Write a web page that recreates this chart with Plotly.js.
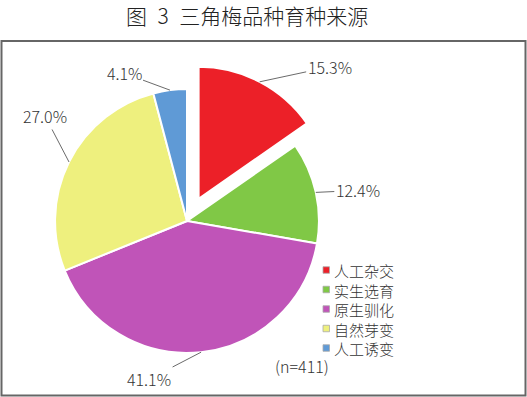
<!DOCTYPE html>
<html>
<head>
<meta charset="utf-8">
<script src="https://cdn.plot.ly/plotly-3.0.1.min.js"></script>
<style>html,body{margin:0;padding:0;background:#fff;}#chart{width:527px;height:397px;}</style>
</head>
<body>
<div id="chart"></div>
<script>
// ---- data ----
const categories = ['人工杂交', '实生选育', '原生驯化', '自然芽变', '人工诱变'];
const shares = [15.3, 12.4, 41.1, 27.0, 4.1];   // percent
const sampleSize = 411;
const titleText = '图\u20023\u2002三角梅品种育种来源';

// ---- styling ----
const colors = ['#EC2028', '#80C846', '#C054B8', '#EEF07E', '#5F9AD6'];
const pulls = [0.19, 0, 0, 0, 0];
const labelOffsets = [[70, -15], [42, -2], [-52, 27], [-24, -46], [-46, -17]]; // px
const W = 527, H = 397;
const dom = {x: [0.0569, 0.6528], y: [0.0478, 0.8388]};
const CJK = '"Noto Sans CJK SC", "Noto Sans", sans-serif';
const legendFont = 15;
const legendBox = {x: 323, textX: 333, firstY: 270, step: legendFont * 1.3, sq: 6.5};

// geometry mirroring Plotly's pie layout (margins are zero)
const maxPull = Math.max(...pulls);
const rx = W * (dom.x[1] - dom.x[0]) / 2, ry = H * (dom.y[1] - dom.y[0]) / 2;
const r = Math.min(rx, ry) / (1 + maxPull);
const cx = W * (dom.x[0] + dom.x[1]) / 2;
const cy = H * (2 - dom.y[0] - dom.y[1]) / 2;
const total = shares.reduce((a, b) => a + b, 0);

const annotations = [];
const shapes = [{type: 'rect', xref: 'paper', yref: 'paper', x0: 1.5 / W, x1: 1 - 1.5 / W,
                 y0: 1.5 / H, y1: 1 - 41 / H, line: {color: '#666', width: 2}}];
let cum = 0;
shares.forEach((v, i) => {
  const mid = (cum + v / 2) / total * 2 * Math.PI;
  cum += v;
  const R = r * (1 + pulls[i]);
  const px = cx + R * Math.sin(mid), py = cy - R * Math.cos(mid);
  annotations.push({
    xref: 'paper', yref: 'paper', x: px / W, y: 1 - py / H,
    text: v.toFixed(1) + '%', showarrow: true, arrowhead: 0, arrowwidth: 0.8,
    arrowcolor: '#444', standoff: 0, ax: labelOffsets[i][0], ay: labelOffsets[i][1],
    font: {family: CJK, size: 16, color: '#333', weight: 300}
  });
});
annotations.push({
  xref: 'paper', yref: 'paper', x: 302 / W, y: 1 - 380 / H, showarrow: false,
  text: '(n=' + sampleSize + ')', font: {family: CJK, size: 16, color: '#333', weight: 300}
});

// legend (drawn beside the pie): colour keys + one multi-line text block
categories.forEach((c, i) => {
  const yc = legendBox.firstY + i * legendBox.step;
  shapes.push({type: 'rect', xref: 'paper', yref: 'paper',
    x0: legendBox.x / W, x1: (legendBox.x + legendBox.sq) / W,
    y0: 1 - (yc + legendBox.sq / 2) / H, y1: 1 - (yc - legendBox.sq / 2) / H,
    fillcolor: colors[i], line: {color: '#aaa', width: 0.8}});
});
const legendMidY = legendBox.firstY + (categories.length - 1) / 2 * legendBox.step;
annotations.push({xref: 'paper', yref: 'paper', x: legendBox.textX / W, xanchor: 'left',
  y: 1 - legendMidY / H, yanchor: 'middle', showarrow: false, align: 'left',
  text: categories.join('<br>'), borderpad: 0,
  font: {family: CJK, size: legendFont, color: '#333', weight: 300}});

const trace = {
  type: 'pie', labels: categories, values: shares, sort: false,
  direction: 'clockwise', rotation: 0, pull: pulls,
  marker: {colors: colors, line: {color: '#ffffff', width: 2}},
  textinfo: 'none', hoverinfo: 'label+percent', domain: dom
};

const layout = {
  width: W, height: H,
  margin: {l: 0, r: 0, t: 0, b: 0},
  paper_bgcolor: '#fff',
  font: {family: CJK, color: '#333'},
  title: {text: titleText, x: 126 / W, xanchor: 'left', y: 1 - 17 / H, yanchor: 'middle',
          font: {family: CJK, size: 21, color: '#222', weight: 300}},
  showlegend: false,
  shapes: shapes,
  annotations: annotations
};

Plotly.newPlot('chart', [trace], layout, {displayModeBar: false, staticPlot: true});
</script>
</body>
</html>
